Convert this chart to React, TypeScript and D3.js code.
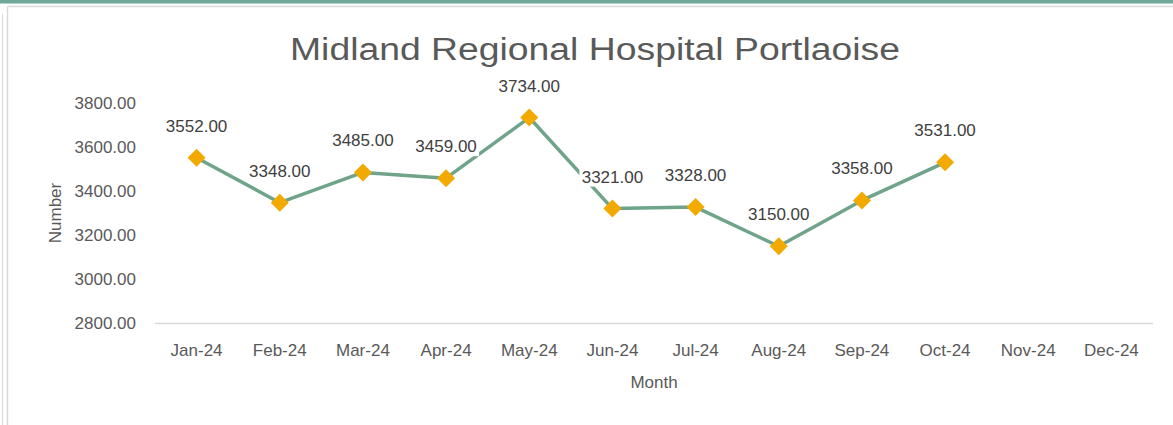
import React from "react";
import * as d3 from "d3";

const title = "Midland Regional Hospital Portlaoise";
const months = ["Jan-24", "Feb-24", "Mar-24", "Apr-24", "May-24", "Jun-24", "Jul-24", "Aug-24", "Sep-24", "Oct-24", "Nov-24", "Dec-24"];
const values: (number | null)[] = [3552, 3348, 3485, 3459, 3734, 3321, 3328, 3150, 3358, 3531, null, null];
const yTicks = [2800, 3000, 3200, 3400, 3600, 3800];
const xTitle = "Month";
const yTitle = "Number";

const W = 1173;
const H = 425;
const plot = { left: 155, right: 1153, top: 103, bottom: 323.5 };
const font = "'Liberation Sans', Arial, sans-serif";

export default function App() {
  const x = d3.scaleBand<string>().domain(months).range([plot.left, plot.right]);
  const y = d3.scaleLinear().domain([2800, 3800]).range([plot.bottom, plot.top]);
  const pts = months
    .map((m, i) => ({ m, v: values[i] }))
    .filter((d) => d.v !== null) as { m: string; v: number }[];
  const cx = (m: string) => (x(m) as number) + x.bandwidth() / 2;
  const line = d3
    .line<{ m: string; v: number }>()
    .x((d) => cx(d.m))
    .y((d) => y(d.v));
  const fmt = d3.format(".2f");
  const labW = 66;
  const labH = 20;

  return (
    <svg
      width={W}
      height={H}
      style={{ position: "absolute", left: 0, top: 0, display: "block" }}
      fontFamily={font}
    >
      <rect x={0} y={0} width={W} height={H} fill="#fff" />
      <rect x={0} y={0} width={W} height={3.5} fill="#6fa898" />
      <line x1={2.5} y1={14} x2={2.5} y2={H} stroke="#d9d9d9" strokeWidth={1} />
      <line x1={7.5} y1={6.5} x2={W} y2={6.5} stroke="#d9d9d9" strokeWidth={1.5} />
      <line x1={7.5} y1={6.5} x2={7.5} y2={H} stroke="#d9d9d9" strokeWidth={1.5} />

      <text
        x={290}
        y={60}
        fontSize={31}
        fill="#595959"
        textLength={610}
        lengthAdjust="spacingAndGlyphs"
      >
        {title}
      </text>

      {yTicks.map((t) => (
        <text key={t} x={136} y={y(t)} dy="0.35em" textAnchor="end" fontSize={17} fill="#595959">
          {fmt(t)}
        </text>
      ))}
      <line x1={plot.left} x2={plot.right} y1={plot.bottom} y2={plot.bottom} stroke="#d9d9d9" strokeWidth={1.5} />
      {months.map((m) => (
        <text key={m} x={cx(m)} y={350} dy="0.35em" textAnchor="middle" fontSize={17} fill="#595959">
          {m}
        </text>
      ))}
      <text x={654} y={382} dy="0.35em" textAnchor="middle" fontSize={17} fill="#595959">
        {xTitle}
      </text>
      <text
        transform={`translate(55,213) rotate(-90)`}
        dy="0.35em"
        textAnchor="middle"
        fontSize={17}
        fill="#595959"
      >
        {yTitle}
      </text>

      <path d={line(pts) || ""} fill="none" stroke="#6fa38a" strokeWidth={3.5} strokeLinejoin="round" />
      {pts.map((d) => {
        const px = cx(d.m);
        const py = y(d.v);
        return (
          <g key={d.m}>
            <path
              d={`M${px},${py - 9}L${px + 9},${py}L${px},${py + 9}L${px - 9},${py}Z`}
              fill="#f2a900"
            />
            <rect x={px - labW / 2} y={py - 32 - labH / 2} width={labW} height={labH} fill="#fff" />
            <text x={px} y={py - 32} dy="0.35em" textAnchor="middle" fontSize={17} fill="#404040">
              {fmt(d.v)}
            </text>
          </g>
        );
      })}
    </svg>
  );
}
